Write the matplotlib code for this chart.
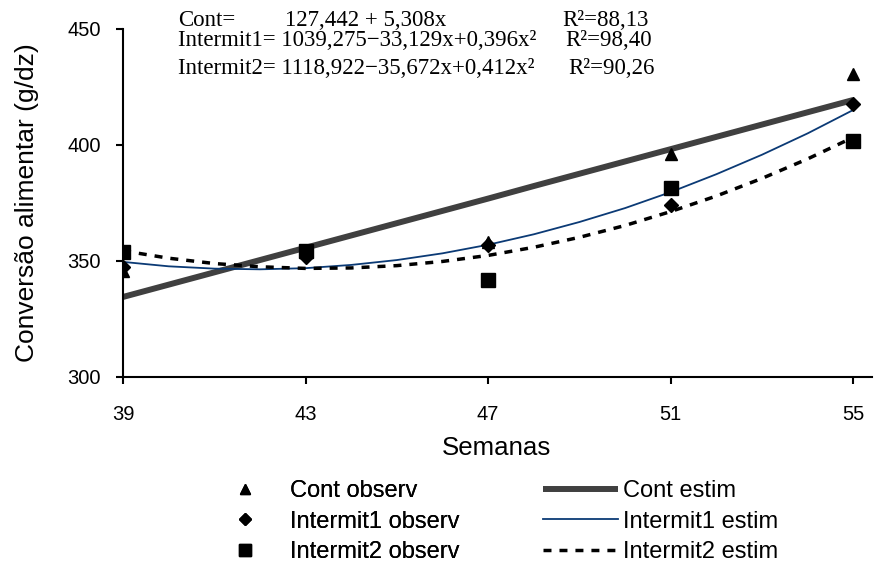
import matplotlib
matplotlib.use("Agg")
import matplotlib.pyplot as plt

# observed values (weeks 39..55, every 4 weeks)
weeks_obs = [39, 43, 47, 51, 55]
cont_obs = [345.5, 354, 358, 396, 430.5]
int1_obs = [347.5, 351.5, 357, 374, 417.5]
int2_obs = [354, 354.5, 342, 381.5, 401.5]

# estimated curves, read week by week
weeks_est = list(range(39, 56))
cont_est = [334.5, 339.8, 345.1, 350.4, 355.7, 361.0, 366.3, 371.6, 376.9,
            382.3, 387.6, 392.9, 398.2, 403.5, 408.8, 414.1, 419.4]
int1_est = [349.6, 347.7, 346.7, 346.4, 346.9, 348.3, 350.4, 353.3, 357.0,
            361.5, 366.8, 372.8, 379.7, 387.4, 395.8, 405.0, 415.1]
int2_est = [354.4, 351.2, 348.9, 347.5, 346.8, 347.0, 348.0, 349.8, 352.4,
            355.9, 360.2, 365.3, 371.3, 378.0, 385.6, 394.0, 403.3]

xticks = [39, 43, 47, 51, 55]
yticks = [300, 350, 400, 450]

plt.rcParams["font.family"] = ["Liberation Sans", "DejaVu Sans"]

fig = plt.figure(figsize=(8.77, 5.68), dpi=100)
ax = fig.add_axes([0.1403, 0.3363, 0.854, 0.6127])

l1, = ax.plot(weeks_est, cont_est, color="#404040", lw=4.3, solid_capstyle="butt")
l2, = ax.plot(weeks_est, int1_est, color="#0b3a75", lw=1.3)
l3, = ax.plot(weeks_est, int2_est, color="black", lw=2.5, linestyle=(0, (2.3, 2.3)))

m1, = ax.plot(weeks_obs, cont_obs, "^", color="black", ms=9, linestyle="none")
m2, = ax.plot(weeks_obs, int1_obs, "D", color="black", ms=7, linestyle="none")
m3, = ax.plot(weeks_obs, int2_obs, "s", color="black", ms=9.5, linestyle="none")

ax.set_xlim(39, 55.41)
ax.set_ylim(300, 450)
ax.set_xticks(xticks)
ax.set_yticks(yticks)
ax.tick_params(labelsize=14.5, length=5, width=1.5)
ax.tick_params(axis="x", pad=15)
ax.tick_params(axis="y", pad=11)
for s in ["top", "right"]:
    ax.spines[s].set_visible(False)
for s in ["left", "bottom"]:
    ax.spines[s].set_linewidth(1.5)

fig.text(496 / 877, 1 - 448 / 568, "Semanas", fontsize=18.6, ha="center", va="center")
fig.text(27 / 877, 1 - 203 / 568, "Conversão alimentar (g/dz)", fontsize=19,
         rotation=90, ha="center", va="center")

# equations
serif = ["Liberation Serif", "DejaVu Serif"]
eqs = [
    ("Cont=", "127,442 + 5,308x", "R²=88,13", 20),
    ("Intermit1=", "1039,275\u221233,129x+0,396x²", "R²=98,40", 41),
    ("Intermit2=", "1118,922\u221235,672x+0,412x²", "R²=90,26", 69),
]
for i, (lab, eq, r2, ypx) in enumerate(eqs):
    yf = 1 - ypx / 568
    if i == 0:
        fig.text(178 / 877, yf, lab, family=serif, fontsize=16.5, va="center")
        fig.text(285 / 877, yf, eq, family=serif, fontsize=16.5, va="center")
    else:
        fig.text(178 / 877, yf, lab + " " + eq, family=serif, fontsize=16.5, va="center")
    fig.text((562 + 3 * i) / 877, yf, r2, family=serif, fontsize=16.5, va="center")

leg1 = fig.legend([m1, m2, m3], ["Cont observ", "Intermit1 observ", "Intermit2 observ"],
                  loc="upper left", bbox_to_anchor=(221 / 877, 1 - 480 / 568),
                  frameon=False, fontsize=17, handlelength=2, handletextpad=0.93,
                  borderpad=0, borderaxespad=0, labelspacing=0.37, markerscale=0.85)
leg2 = fig.legend([l1, l2, l3], ["Cont estim", "Intermit1 estim", "Intermit2 estim"],
                  loc="upper left", bbox_to_anchor=(543 / 877, 1 - 480 / 568),
                  frameon=False, fontsize=17, handlelength=3.18, handletextpad=0.2,
                  borderpad=0, borderaxespad=0, labelspacing=0.37)
fig.add_artist(leg1)

fig.savefig("out.png", dpi=100)
